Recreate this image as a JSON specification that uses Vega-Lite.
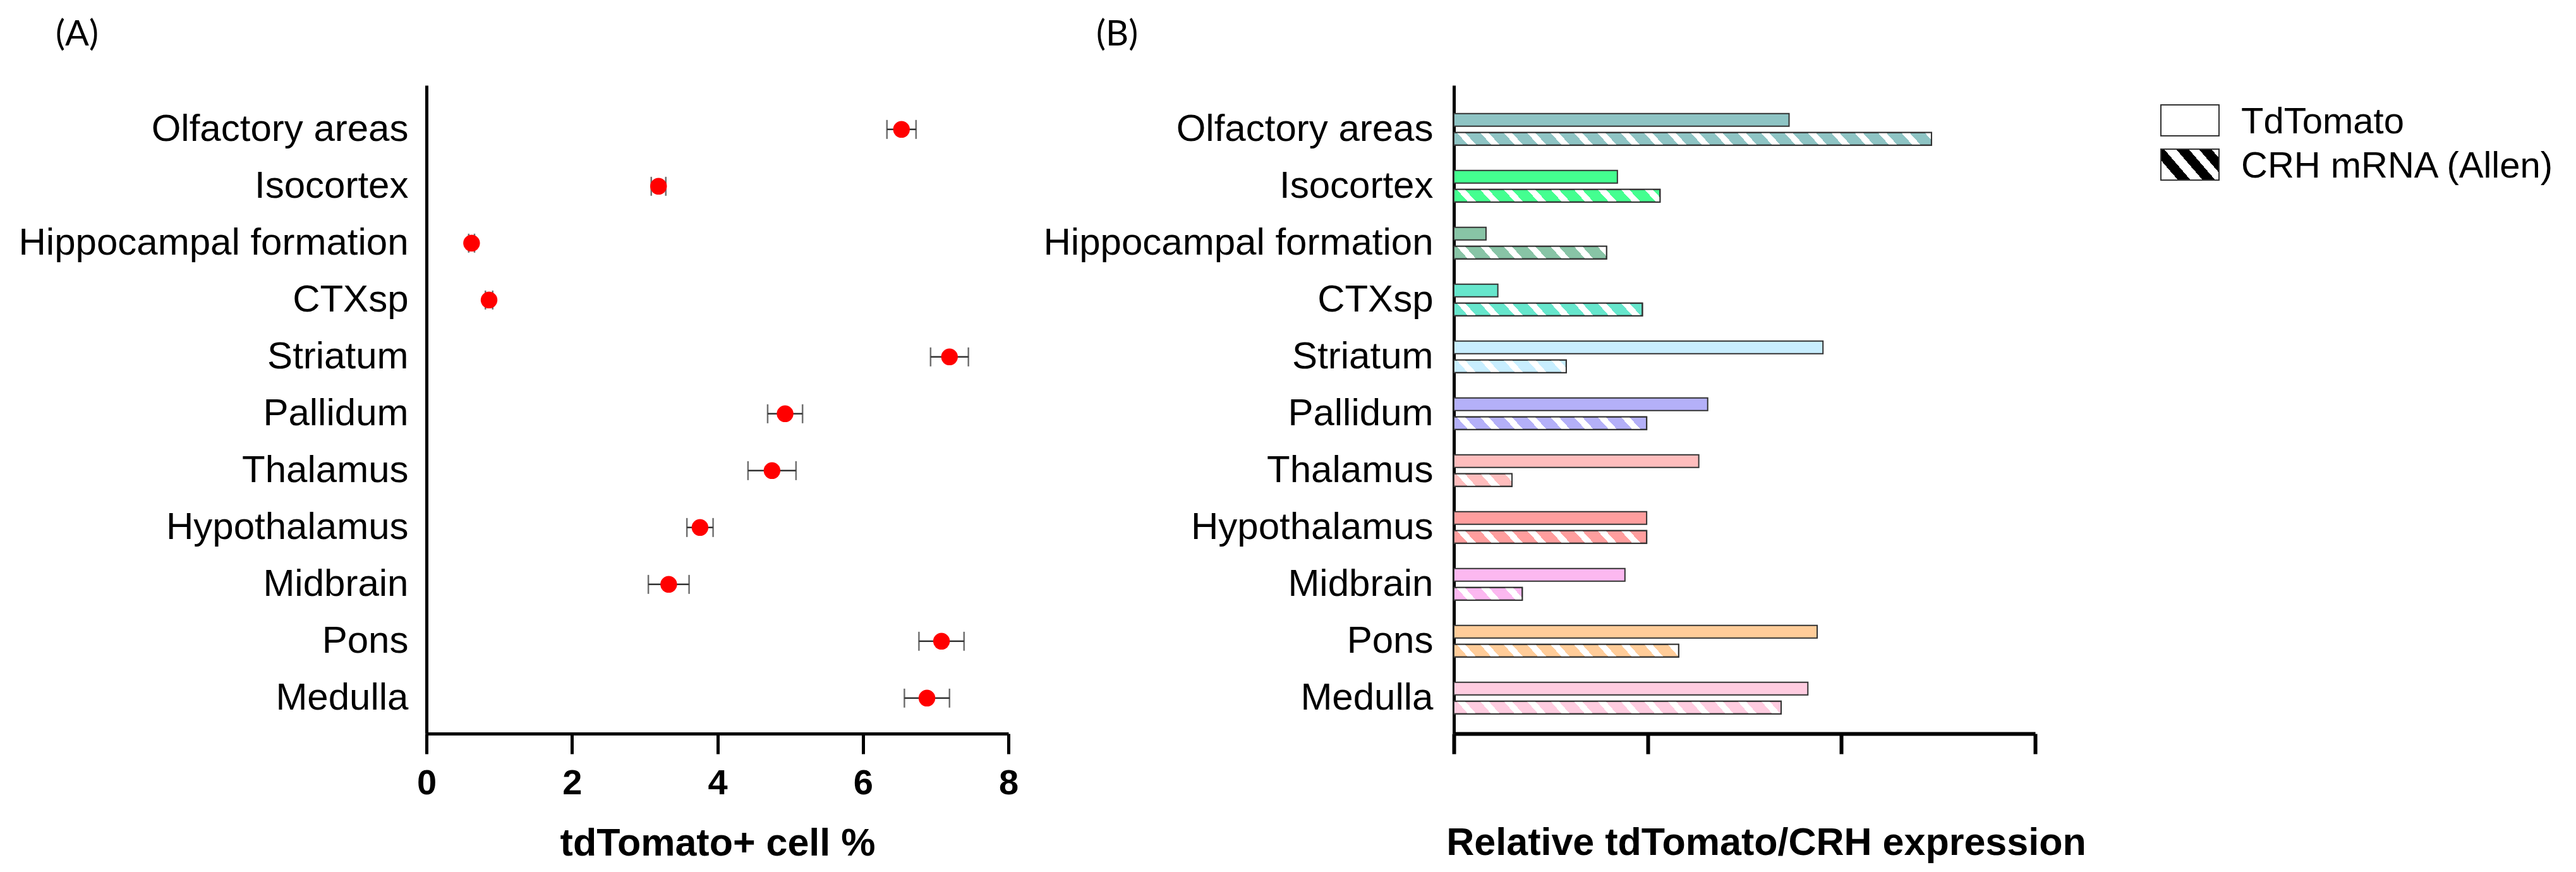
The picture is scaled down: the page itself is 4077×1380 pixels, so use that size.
{
  "$schema": "https://vega.github.io/schema/vega-lite/v6.json",
  "background": "white",
  "padding": {"left": 29, "top": 27, "right": 10, "bottom": 10},
  "config": {
    "view": {"stroke": null},
    "font": "Liberation Sans",
    "axis": {"grid": false, "domainColor": "black", "tickColor": "black", "labelColor": "black", "titleColor": "black"}
  },
  "datasets": {
    "cells": [
      {"region": "Olfactory areas", "mean": 6.53, "err": 0.2},
      {"region": "Isocortex", "mean": 3.19, "err": 0.1},
      {"region": "Hippocampal formation", "mean": 0.62, "err": 0.04},
      {"region": "CTXsp", "mean": 0.86, "err": 0.05},
      {"region": "Striatum", "mean": 7.19, "err": 0.26},
      {"region": "Pallidum", "mean": 4.93, "err": 0.24},
      {"region": "Thalamus", "mean": 4.75, "err": 0.33},
      {"region": "Hypothalamus", "mean": 3.76, "err": 0.18},
      {"region": "Midbrain", "mean": 3.33, "err": 0.28},
      {"region": "Pons", "mean": 7.08, "err": 0.31},
      {"region": "Medulla", "mean": 6.88, "err": 0.31}
    ],
    "expr": [
      {"region": "Olfactory areas", "series": "TdTomato", "value": 1.73},
      {"region": "Olfactory areas", "series": "CRH mRNA (Allen)", "value": 2.465},
      {"region": "Isocortex", "series": "TdTomato", "value": 0.844},
      {"region": "Isocortex", "series": "CRH mRNA (Allen)", "value": 1.064},
      {"region": "Hippocampal formation", "series": "TdTomato", "value": 0.166},
      {"region": "Hippocampal formation", "series": "CRH mRNA (Allen)", "value": 0.788},
      {"region": "CTXsp", "series": "TdTomato", "value": 0.227},
      {"region": "CTXsp", "series": "CRH mRNA (Allen)", "value": 0.973},
      {"region": "Striatum", "series": "TdTomato", "value": 1.905},
      {"region": "Striatum", "series": "CRH mRNA (Allen)", "value": 0.58},
      {"region": "Pallidum", "series": "TdTomato", "value": 1.31},
      {"region": "Pallidum", "series": "CRH mRNA (Allen)", "value": 0.995},
      {"region": "Thalamus", "series": "TdTomato", "value": 1.264},
      {"region": "Thalamus", "series": "CRH mRNA (Allen)", "value": 0.30},
      {"region": "Hypothalamus", "series": "TdTomato", "value": 0.995},
      {"region": "Hypothalamus", "series": "CRH mRNA (Allen)", "value": 0.995},
      {"region": "Midbrain", "series": "TdTomato", "value": 0.883},
      {"region": "Midbrain", "series": "CRH mRNA (Allen)", "value": 0.353},
      {"region": "Pons", "series": "TdTomato", "value": 1.875},
      {"region": "Pons", "series": "CRH mRNA (Allen)", "value": 1.16},
      {"region": "Medulla", "series": "TdTomato", "value": 1.827},
      {"region": "Medulla", "series": "CRH mRNA (Allen)", "value": 1.689}
    ],
    "legendrows": [
      {"series": "TdTomato"},
      {"series": "CRH mRNA (Allen)"}
    ]
  },
  "spacing": 117,
  "hconcat": [
    {
      "spacing": 39,
      "hconcat": [
        {
          "title": {"text": "(A)", "anchor": "start", "frame": "bounds", "dx": 59, "dy": 54, "offset": 49, "baseline": "bottom", "font": "Lato", "fontSize": 56, "fontWeight": "normal", "color": "black"},
          "width": 921,
          "height": 1026,
          "data": {"name": "cells"},
          "encoding": {
            "y": {
              "field": "region", "type": "nominal",
              "scale": {"domain": ["Olfactory areas", "Isocortex", "Hippocampal formation", "CTXsp", "Striatum", "Pallidum", "Thalamus", "Hypothalamus", "Midbrain", "Pons", "Medulla"], "paddingInner": 0.444, "paddingOuter": 0.422, "align": 0.59},
              "axis": {"title": null, "ticks": false, "tickSize": 0, "domainWidth": 5, "labelFontSize": 60, "labelFont": "Liberation Sans", "labelPadding": 29, "labelLimit": 2000}
            },
            "x": {
              "field": "mean", "type": "quantitative",
              "scale": {"domain": [0, 8], "nice": false},
              "axis": {"title": "tdTomato+ cell %", "values": [0, 2, 4, 6, 8], "tickSize": 32, "tickWidth": 5, "domainWidth": 5, "labelFontSize": 56, "labelFontWeight": "bold", "labelPadding": 19, "titleFontSize": 61, "titleFontWeight": "bold", "titlePadding": 38, "labelFlush": false}
            }
          },
          "layer": [
            {
              "mark": {"type": "errorbar", "color": "#333333", "thickness": 2.5, "ticks": {"size": 30, "thickness": 2.5, "color": "#333333"}, "rule": {"strokeWidth": 2.5, "color": "#333333"}},
              "encoding": {"xError": {"field": "err"}}
            },
            {
              "mark": {"type": "circle", "size": 700, "color": "#FF0000", "opacity": 1}
            }
          ]
        },
        {
          "title": {"text": "(B)", "anchor": "start", "frame": "bounds", "dx": 84, "dy": 54, "offset": 49, "baseline": "bottom", "font": "Lato", "fontSize": 56, "fontWeight": "normal", "color": "black"},
          "width": 920,
          "height": 1026,
          "data": {"name": "expr"},
          "encoding": {
            "y": {
              "field": "region", "type": "nominal",
              "scale": {"domain": ["Olfactory areas", "Isocortex", "Hippocampal formation", "CTXsp", "Striatum", "Pallidum", "Thalamus", "Hypothalamus", "Midbrain", "Pons", "Medulla"], "paddingInner": 0.444, "paddingOuter": 0.422, "align": 0.59},
              "axis": {"title": null, "ticks": false, "tickSize": 0, "domainWidth": 5, "labelFontSize": 60, "labelFont": "Liberation Sans", "labelPadding": 33, "labelLimit": 2000}
            },
            "yOffset": {"field": "series", "type": "nominal", "scale": {"domain": ["TdTomato", "CRH mRNA (Allen)"], "paddingInner": 0.3333, "paddingOuter": 0}},
            "x": {
              "field": "value", "type": "quantitative",
              "scale": {"domain": [0, 3], "nice": false},
              "axis": {"title": "Relative tdTomato/CRH expression", "values": [0, 1, 2, 3], "labels": false, "tickSize": 32, "tickWidth": 6, "domainWidth": 6, "titleFontSize": 61, "titleFontWeight": "bold", "titlePadding": 108, "titleX": 494}
            }
          },
          "layer": [
            {
              "mark": {"type": "bar", "stroke": "#333333", "strokeWidth": 2},
              "encoding": {
                "fill": {"field": "region", "type": "nominal", "legend": null,
                  "scale": {"domain": ["Olfactory areas", "Isocortex", "Hippocampal formation", "CTXsp", "Striatum", "Pallidum", "Thalamus", "Hypothalamus", "Midbrain", "Pons", "Medulla"],
                            "range": ["#8EC4C4", "#44FF90", "#88C4A6", "#66E6CC", "#C8EEFF", "#B4B0F8", "#FFBDBD", "#FF9E9E", "#FCB8F0", "#FFCC99", "#FFCCE0"]}}
              }
            },
            {
              "transform": [{"filter": "datum.series === 'CRH mRNA (Allen)'"}],
              "mark": {"type": "bar", "stroke": "#333333", "strokeWidth": 2},
              "encoding": {
                "fill": {
                  "condition": [
                    {"test": "datum.region === 'Olfactory areas'", "value": {"gradient": "linear", "x1": 0, "y1": 0.512, "x2": 1, "y2": 0.488, "stops": [
                      {"offset": 0, "color": "rgba(255,255,255,0)"},
                      {"offset": 0.0185, "color": "rgba(255,255,255,0)"}, {"offset": 0.0185, "color": "#ffffff"}, {"offset": 0.0357, "color": "#ffffff"}, {"offset": 0.0357, "color": "rgba(255,255,255,0)"},
                      {"offset": 0.0675, "color": "rgba(255,255,255,0)"}, {"offset": 0.0675, "color": "#ffffff"}, {"offset": 0.0847, "color": "#ffffff"}, {"offset": 0.0847, "color": "rgba(255,255,255,0)"},
                      {"offset": 0.1164, "color": "rgba(255,255,255,0)"}, {"offset": 0.1164, "color": "#ffffff"}, {"offset": 0.1336, "color": "#ffffff"}, {"offset": 0.1336, "color": "rgba(255,255,255,0)"},
                      {"offset": 0.1653, "color": "rgba(255,255,255,0)"}, {"offset": 0.1653, "color": "#ffffff"}, {"offset": 0.1825, "color": "#ffffff"}, {"offset": 0.1825, "color": "rgba(255,255,255,0)"},
                      {"offset": 0.2143, "color": "rgba(255,255,255,0)"}, {"offset": 0.2143, "color": "#ffffff"}, {"offset": 0.2315, "color": "#ffffff"}, {"offset": 0.2315, "color": "rgba(255,255,255,0)"},
                      {"offset": 0.2632, "color": "rgba(255,255,255,0)"}, {"offset": 0.2632, "color": "#ffffff"}, {"offset": 0.2804, "color": "#ffffff"}, {"offset": 0.2804, "color": "rgba(255,255,255,0)"},
                      {"offset": 0.3122, "color": "rgba(255,255,255,0)"}, {"offset": 0.3122, "color": "#ffffff"}, {"offset": 0.3294, "color": "#ffffff"}, {"offset": 0.3294, "color": "rgba(255,255,255,0)"},
                      {"offset": 0.3611, "color": "rgba(255,255,255,0)"}, {"offset": 0.3611, "color": "#ffffff"}, {"offset": 0.3783, "color": "#ffffff"}, {"offset": 0.3783, "color": "rgba(255,255,255,0)"},
                      {"offset": 0.4101, "color": "rgba(255,255,255,0)"}, {"offset": 0.4101, "color": "#ffffff"}, {"offset": 0.4272, "color": "#ffffff"}, {"offset": 0.4272, "color": "rgba(255,255,255,0)"},
                      {"offset": 0.4590, "color": "rgba(255,255,255,0)"}, {"offset": 0.4590, "color": "#ffffff"}, {"offset": 0.4762, "color": "#ffffff"}, {"offset": 0.4762, "color": "rgba(255,255,255,0)"},
                      {"offset": 0.5079, "color": "rgba(255,255,255,0)"}, {"offset": 0.5079, "color": "#ffffff"}, {"offset": 0.5251, "color": "#ffffff"}, {"offset": 0.5251, "color": "rgba(255,255,255,0)"},
                      {"offset": 0.5569, "color": "rgba(255,255,255,0)"}, {"offset": 0.5569, "color": "#ffffff"}, {"offset": 0.5741, "color": "#ffffff"}, {"offset": 0.5741, "color": "rgba(255,255,255,0)"},
                      {"offset": 0.6058, "color": "rgba(255,255,255,0)"}, {"offset": 0.6058, "color": "#ffffff"}, {"offset": 0.6230, "color": "#ffffff"}, {"offset": 0.6230, "color": "rgba(255,255,255,0)"},
                      {"offset": 0.6548, "color": "rgba(255,255,255,0)"}, {"offset": 0.6548, "color": "#ffffff"}, {"offset": 0.6720, "color": "#ffffff"}, {"offset": 0.6720, "color": "rgba(255,255,255,0)"},
                      {"offset": 0.7037, "color": "rgba(255,255,255,0)"}, {"offset": 0.7037, "color": "#ffffff"}, {"offset": 0.7209, "color": "#ffffff"}, {"offset": 0.7209, "color": "rgba(255,255,255,0)"},
                      {"offset": 0.7526, "color": "rgba(255,255,255,0)"}, {"offset": 0.7526, "color": "#ffffff"}, {"offset": 0.7698, "color": "#ffffff"}, {"offset": 0.7698, "color": "rgba(255,255,255,0)"},
                      {"offset": 0.8016, "color": "rgba(255,255,255,0)"}, {"offset": 0.8016, "color": "#ffffff"}, {"offset": 0.8188, "color": "#ffffff"}, {"offset": 0.8188, "color": "rgba(255,255,255,0)"},
                      {"offset": 0.8505, "color": "rgba(255,255,255,0)"}, {"offset": 0.8505, "color": "#ffffff"}, {"offset": 0.8677, "color": "#ffffff"}, {"offset": 0.8677, "color": "rgba(255,255,255,0)"},
                      {"offset": 0.8995, "color": "rgba(255,255,255,0)"}, {"offset": 0.8995, "color": "#ffffff"}, {"offset": 0.9167, "color": "#ffffff"}, {"offset": 0.9167, "color": "rgba(255,255,255,0)"},
                      {"offset": 0.9484, "color": "rgba(255,255,255,0)"}, {"offset": 0.9484, "color": "#ffffff"}, {"offset": 0.9656, "color": "#ffffff"}, {"offset": 0.9656, "color": "rgba(255,255,255,0)"},
                      {"offset": 0.9974, "color": "rgba(255,255,255,0)"}, {"offset": 0.9974, "color": "#ffffff"}, {"offset": 1, "color": "#ffffff"}
                    ]}},
                    {"test": "datum.region === 'Isocortex'", "value": {"gradient": "linear", "x1": 0, "y1": 0.528, "x2": 1, "y2": 0.472, "stops": [
                      {"offset": 0, "color": "rgba(255,255,255,0)"},
                      {"offset": 0.043, "color": "rgba(255,255,255,0)"}, {"offset": 0.043, "color": "#ffffff"}, {"offset": 0.083, "color": "#ffffff"}, {"offset": 0.083, "color": "rgba(255,255,255,0)"},
                      {"offset": 0.156, "color": "rgba(255,255,255,0)"}, {"offset": 0.156, "color": "#ffffff"}, {"offset": 0.196, "color": "#ffffff"}, {"offset": 0.196, "color": "rgba(255,255,255,0)"},
                      {"offset": 0.270, "color": "rgba(255,255,255,0)"}, {"offset": 0.270, "color": "#ffffff"}, {"offset": 0.310, "color": "#ffffff"}, {"offset": 0.310, "color": "rgba(255,255,255,0)"},
                      {"offset": 0.383, "color": "rgba(255,255,255,0)"}, {"offset": 0.383, "color": "#ffffff"}, {"offset": 0.423, "color": "#ffffff"}, {"offset": 0.423, "color": "rgba(255,255,255,0)"},
                      {"offset": 0.497, "color": "rgba(255,255,255,0)"}, {"offset": 0.497, "color": "#ffffff"}, {"offset": 0.537, "color": "#ffffff"}, {"offset": 0.537, "color": "rgba(255,255,255,0)"},
                      {"offset": 0.610, "color": "rgba(255,255,255,0)"}, {"offset": 0.610, "color": "#ffffff"}, {"offset": 0.650, "color": "#ffffff"}, {"offset": 0.650, "color": "rgba(255,255,255,0)"},
                      {"offset": 0.724, "color": "rgba(255,255,255,0)"}, {"offset": 0.724, "color": "#ffffff"}, {"offset": 0.764, "color": "#ffffff"}, {"offset": 0.764, "color": "rgba(255,255,255,0)"},
                      {"offset": 0.837, "color": "rgba(255,255,255,0)"}, {"offset": 0.837, "color": "#ffffff"}, {"offset": 0.877, "color": "#ffffff"}, {"offset": 0.877, "color": "rgba(255,255,255,0)"},
                      {"offset": 0.951, "color": "rgba(255,255,255,0)"}, {"offset": 0.951, "color": "#ffffff"}, {"offset": 0.991, "color": "#ffffff"}, {"offset": 0.991, "color": "rgba(255,255,255,0)"},
                      {"offset": 1, "color": "rgba(255,255,255,0)"}
                    ]}},
                    {"test": "datum.region === 'Hippocampal formation'", "value": {"gradient": "linear", "x1": 0, "y1": 0.537, "x2": 1, "y2": 0.463, "stops": [
                      {"offset": 0, "color": "rgba(255,255,255,0)"},
                      {"offset": 0.058, "color": "rgba(255,255,255,0)"}, {"offset": 0.058, "color": "#ffffff"}, {"offset": 0.112, "color": "#ffffff"}, {"offset": 0.112, "color": "rgba(255,255,255,0)"},
                      {"offset": 0.211, "color": "rgba(255,255,255,0)"}, {"offset": 0.211, "color": "#ffffff"}, {"offset": 0.264, "color": "#ffffff"}, {"offset": 0.264, "color": "rgba(255,255,255,0)"},
                      {"offset": 0.364, "color": "rgba(255,255,255,0)"}, {"offset": 0.364, "color": "#ffffff"}, {"offset": 0.417, "color": "#ffffff"}, {"offset": 0.417, "color": "rgba(255,255,255,0)"},
                      {"offset": 0.517, "color": "rgba(255,255,255,0)"}, {"offset": 0.517, "color": "#ffffff"}, {"offset": 0.570, "color": "#ffffff"}, {"offset": 0.570, "color": "rgba(255,255,255,0)"},
                      {"offset": 0.669, "color": "rgba(255,255,255,0)"}, {"offset": 0.669, "color": "#ffffff"}, {"offset": 0.723, "color": "#ffffff"}, {"offset": 0.723, "color": "rgba(255,255,255,0)"},
                      {"offset": 0.822, "color": "rgba(255,255,255,0)"}, {"offset": 0.822, "color": "#ffffff"}, {"offset": 0.876, "color": "#ffffff"}, {"offset": 0.876, "color": "rgba(255,255,255,0)"},
                      {"offset": 0.975, "color": "rgba(255,255,255,0)"}, {"offset": 0.975, "color": "#ffffff"}, {"offset": 1, "color": "#ffffff"}
                    ]}},
                    {"test": "datum.region === 'CTXsp'", "value": {"gradient": "linear", "x1": 0, "y1": 0.530, "x2": 1, "y2": 0.470, "stops": [
                      {"offset": 0, "color": "rgba(255,255,255,0)"},
                      {"offset": 0.047, "color": "rgba(255,255,255,0)"}, {"offset": 0.047, "color": "#ffffff"}, {"offset": 0.091, "color": "#ffffff"}, {"offset": 0.091, "color": "rgba(255,255,255,0)"},
                      {"offset": 0.171, "color": "rgba(255,255,255,0)"}, {"offset": 0.171, "color": "#ffffff"}, {"offset": 0.215, "color": "#ffffff"}, {"offset": 0.215, "color": "rgba(255,255,255,0)"},
                      {"offset": 0.295, "color": "rgba(255,255,255,0)"}, {"offset": 0.295, "color": "#ffffff"}, {"offset": 0.339, "color": "#ffffff"}, {"offset": 0.339, "color": "rgba(255,255,255,0)"},
                      {"offset": 0.419, "color": "rgba(255,255,255,0)"}, {"offset": 0.419, "color": "#ffffff"}, {"offset": 0.463, "color": "#ffffff"}, {"offset": 0.463, "color": "rgba(255,255,255,0)"},
                      {"offset": 0.544, "color": "rgba(255,255,255,0)"}, {"offset": 0.544, "color": "#ffffff"}, {"offset": 0.587, "color": "#ffffff"}, {"offset": 0.587, "color": "rgba(255,255,255,0)"},
                      {"offset": 0.668, "color": "rgba(255,255,255,0)"}, {"offset": 0.668, "color": "#ffffff"}, {"offset": 0.711, "color": "#ffffff"}, {"offset": 0.711, "color": "rgba(255,255,255,0)"},
                      {"offset": 0.792, "color": "rgba(255,255,255,0)"}, {"offset": 0.792, "color": "#ffffff"}, {"offset": 0.836, "color": "#ffffff"}, {"offset": 0.836, "color": "rgba(255,255,255,0)"},
                      {"offset": 0.916, "color": "rgba(255,255,255,0)"}, {"offset": 0.916, "color": "#ffffff"}, {"offset": 0.960, "color": "#ffffff"}, {"offset": 0.960, "color": "rgba(255,255,255,0)"},
                      {"offset": 1, "color": "rgba(255,255,255,0)"}
                    ]}},
                    {"test": "datum.region === 'Striatum'", "value": {"gradient": "linear", "x1": 0, "y1": 0.551, "x2": 1, "y2": 0.449, "stops": [
                      {"offset": 0, "color": "rgba(255,255,255,0)"},
                      {"offset": 0.079, "color": "rgba(255,255,255,0)"}, {"offset": 0.079, "color": "#ffffff"}, {"offset": 0.152, "color": "#ffffff"}, {"offset": 0.152, "color": "rgba(255,255,255,0)"},
                      {"offset": 0.287, "color": "rgba(255,255,255,0)"}, {"offset": 0.287, "color": "#ffffff"}, {"offset": 0.360, "color": "#ffffff"}, {"offset": 0.360, "color": "rgba(255,255,255,0)"},
                      {"offset": 0.494, "color": "rgba(255,255,255,0)"}, {"offset": 0.494, "color": "#ffffff"}, {"offset": 0.567, "color": "#ffffff"}, {"offset": 0.567, "color": "rgba(255,255,255,0)"},
                      {"offset": 0.702, "color": "rgba(255,255,255,0)"}, {"offset": 0.702, "color": "#ffffff"}, {"offset": 0.775, "color": "#ffffff"}, {"offset": 0.775, "color": "rgba(255,255,255,0)"},
                      {"offset": 0.910, "color": "rgba(255,255,255,0)"}, {"offset": 0.910, "color": "#ffffff"}, {"offset": 0.983, "color": "#ffffff"}, {"offset": 0.983, "color": "rgba(255,255,255,0)"},
                      {"offset": 1, "color": "rgba(255,255,255,0)"}
                    ]}},
                    {"test": "datum.region === 'Pallidum' || datum.region === 'Hypothalamus'", "value": {"gradient": "linear", "x1": 0, "y1": 0.530, "x2": 1, "y2": 0.470, "stops": [
                      {"offset": 0, "color": "rgba(255,255,255,0)"},
                      {"offset": 0.046, "color": "rgba(255,255,255,0)"}, {"offset": 0.046, "color": "#ffffff"}, {"offset": 0.089, "color": "#ffffff"}, {"offset": 0.089, "color": "rgba(255,255,255,0)"},
                      {"offset": 0.167, "color": "rgba(255,255,255,0)"}, {"offset": 0.167, "color": "#ffffff"}, {"offset": 0.210, "color": "#ffffff"}, {"offset": 0.210, "color": "rgba(255,255,255,0)"},
                      {"offset": 0.289, "color": "rgba(255,255,255,0)"}, {"offset": 0.289, "color": "#ffffff"}, {"offset": 0.331, "color": "#ffffff"}, {"offset": 0.331, "color": "rgba(255,255,255,0)"},
                      {"offset": 0.410, "color": "rgba(255,255,255,0)"}, {"offset": 0.410, "color": "#ffffff"}, {"offset": 0.452, "color": "#ffffff"}, {"offset": 0.452, "color": "rgba(255,255,255,0)"},
                      {"offset": 0.531, "color": "rgba(255,255,255,0)"}, {"offset": 0.531, "color": "#ffffff"}, {"offset": 0.574, "color": "#ffffff"}, {"offset": 0.574, "color": "rgba(255,255,255,0)"},
                      {"offset": 0.652, "color": "rgba(255,255,255,0)"}, {"offset": 0.652, "color": "#ffffff"}, {"offset": 0.695, "color": "#ffffff"}, {"offset": 0.695, "color": "rgba(255,255,255,0)"},
                      {"offset": 0.774, "color": "rgba(255,255,255,0)"}, {"offset": 0.774, "color": "#ffffff"}, {"offset": 0.816, "color": "#ffffff"}, {"offset": 0.816, "color": "rgba(255,255,255,0)"},
                      {"offset": 0.895, "color": "rgba(255,255,255,0)"}, {"offset": 0.895, "color": "#ffffff"}, {"offset": 0.938, "color": "#ffffff"}, {"offset": 0.938, "color": "rgba(255,255,255,0)"},
                      {"offset": 1, "color": "rgba(255,255,255,0)"}
                    ]}},
                    {"test": "datum.region === 'Thalamus'", "value": {"gradient": "linear", "x1": 0, "y1": 0.598, "x2": 1, "y2": 0.402, "stops": [
                      {"offset": 0, "color": "rgba(255,255,255,0)"},
                      {"offset": 0.152, "color": "rgba(255,255,255,0)"}, {"offset": 0.152, "color": "#ffffff"}, {"offset": 0.293, "color": "#ffffff"}, {"offset": 0.293, "color": "rgba(255,255,255,0)"},
                      {"offset": 0.554, "color": "rgba(255,255,255,0)"}, {"offset": 0.554, "color": "#ffffff"}, {"offset": 0.696, "color": "#ffffff"}, {"offset": 0.696, "color": "rgba(255,255,255,0)"},
                      {"offset": 0.957, "color": "rgba(255,255,255,0)"}, {"offset": 0.957, "color": "#ffffff"}, {"offset": 1, "color": "#ffffff"}
                    ]}},
                    {"test": "datum.region === 'Midbrain'", "value": {"gradient": "linear", "x1": 0, "y1": 0.583, "x2": 1, "y2": 0.417, "stops": [
                      {"offset": 0, "color": "rgba(255,255,255,0)"},
                      {"offset": 0.130, "color": "rgba(255,255,255,0)"}, {"offset": 0.130, "color": "#ffffff"}, {"offset": 0.250, "color": "#ffffff"}, {"offset": 0.250, "color": "rgba(255,255,255,0)"},
                      {"offset": 0.472, "color": "rgba(255,255,255,0)"}, {"offset": 0.472, "color": "#ffffff"}, {"offset": 0.593, "color": "#ffffff"}, {"offset": 0.593, "color": "rgba(255,255,255,0)"},
                      {"offset": 0.815, "color": "rgba(255,255,255,0)"}, {"offset": 0.815, "color": "#ffffff"}, {"offset": 0.935, "color": "#ffffff"}, {"offset": 0.935, "color": "rgba(255,255,255,0)"},
                      {"offset": 1, "color": "rgba(255,255,255,0)"}
                    ]}},
                    {"test": "datum.region === 'Pons'", "value": {"gradient": "linear", "x1": 0, "y1": 0.525, "x2": 1, "y2": 0.475, "stops": [
                      {"offset": 0, "color": "rgba(255,255,255,0)"},
                      {"offset": 0.039, "color": "rgba(255,255,255,0)"}, {"offset": 0.039, "color": "#ffffff"}, {"offset": 0.076, "color": "#ffffff"}, {"offset": 0.076, "color": "rgba(255,255,255,0)"},
                      {"offset": 0.143, "color": "rgba(255,255,255,0)"}, {"offset": 0.143, "color": "#ffffff"}, {"offset": 0.180, "color": "#ffffff"}, {"offset": 0.180, "color": "rgba(255,255,255,0)"},
                      {"offset": 0.247, "color": "rgba(255,255,255,0)"}, {"offset": 0.247, "color": "#ffffff"}, {"offset": 0.284, "color": "#ffffff"}, {"offset": 0.284, "color": "rgba(255,255,255,0)"},
                      {"offset": 0.351, "color": "rgba(255,255,255,0)"}, {"offset": 0.351, "color": "#ffffff"}, {"offset": 0.388, "color": "#ffffff"}, {"offset": 0.388, "color": "rgba(255,255,255,0)"},
                      {"offset": 0.455, "color": "rgba(255,255,255,0)"}, {"offset": 0.455, "color": "#ffffff"}, {"offset": 0.492, "color": "#ffffff"}, {"offset": 0.492, "color": "rgba(255,255,255,0)"},
                      {"offset": 0.559, "color": "rgba(255,255,255,0)"}, {"offset": 0.559, "color": "#ffffff"}, {"offset": 0.596, "color": "#ffffff"}, {"offset": 0.596, "color": "rgba(255,255,255,0)"},
                      {"offset": 0.663, "color": "rgba(255,255,255,0)"}, {"offset": 0.663, "color": "#ffffff"}, {"offset": 0.699, "color": "#ffffff"}, {"offset": 0.699, "color": "rgba(255,255,255,0)"},
                      {"offset": 0.767, "color": "rgba(255,255,255,0)"}, {"offset": 0.767, "color": "#ffffff"}, {"offset": 0.803, "color": "#ffffff"}, {"offset": 0.803, "color": "rgba(255,255,255,0)"},
                      {"offset": 0.871, "color": "rgba(255,255,255,0)"}, {"offset": 0.871, "color": "#ffffff"}, {"offset": 0.907, "color": "#ffffff"}, {"offset": 0.907, "color": "rgba(255,255,255,0)"},
                      {"offset": 0.975, "color": "rgba(255,255,255,0)"}, {"offset": 0.975, "color": "#ffffff"}, {"offset": 1, "color": "#ffffff"}
                    ]}},
                    {"test": "datum.region === 'Medulla'", "value": {"gradient": "linear", "x1": 0, "y1": 0.517, "x2": 1, "y2": 0.483, "stops": [
                      {"offset": 0, "color": "rgba(255,255,255,0)"},
                      {"offset": 0.027, "color": "rgba(255,255,255,0)"}, {"offset": 0.027, "color": "#ffffff"}, {"offset": 0.052, "color": "#ffffff"}, {"offset": 0.052, "color": "rgba(255,255,255,0)"},
                      {"offset": 0.098, "color": "rgba(255,255,255,0)"}, {"offset": 0.098, "color": "#ffffff"}, {"offset": 0.124, "color": "#ffffff"}, {"offset": 0.124, "color": "rgba(255,255,255,0)"},
                      {"offset": 0.170, "color": "rgba(255,255,255,0)"}, {"offset": 0.170, "color": "#ffffff"}, {"offset": 0.195, "color": "#ffffff"}, {"offset": 0.195, "color": "rgba(255,255,255,0)"},
                      {"offset": 0.241, "color": "rgba(255,255,255,0)"}, {"offset": 0.241, "color": "#ffffff"}, {"offset": 0.266, "color": "#ffffff"}, {"offset": 0.266, "color": "rgba(255,255,255,0)"},
                      {"offset": 0.313, "color": "rgba(255,255,255,0)"}, {"offset": 0.313, "color": "#ffffff"}, {"offset": 0.338, "color": "#ffffff"}, {"offset": 0.338, "color": "rgba(255,255,255,0)"},
                      {"offset": 0.384, "color": "rgba(255,255,255,0)"}, {"offset": 0.384, "color": "#ffffff"}, {"offset": 0.409, "color": "#ffffff"}, {"offset": 0.409, "color": "rgba(255,255,255,0)"},
                      {"offset": 0.456, "color": "rgba(255,255,255,0)"}, {"offset": 0.456, "color": "#ffffff"}, {"offset": 0.481, "color": "#ffffff"}, {"offset": 0.481, "color": "rgba(255,255,255,0)"},
                      {"offset": 0.527, "color": "rgba(255,255,255,0)"}, {"offset": 0.527, "color": "#ffffff"}, {"offset": 0.552, "color": "#ffffff"}, {"offset": 0.552, "color": "rgba(255,255,255,0)"},
                      {"offset": 0.598, "color": "rgba(255,255,255,0)"}, {"offset": 0.598, "color": "#ffffff"}, {"offset": 0.624, "color": "#ffffff"}, {"offset": 0.624, "color": "rgba(255,255,255,0)"},
                      {"offset": 0.670, "color": "rgba(255,255,255,0)"}, {"offset": 0.670, "color": "#ffffff"}, {"offset": 0.695, "color": "#ffffff"}, {"offset": 0.695, "color": "rgba(255,255,255,0)"},
                      {"offset": 0.741, "color": "rgba(255,255,255,0)"}, {"offset": 0.741, "color": "#ffffff"}, {"offset": 0.766, "color": "#ffffff"}, {"offset": 0.766, "color": "rgba(255,255,255,0)"},
                      {"offset": 0.813, "color": "rgba(255,255,255,0)"}, {"offset": 0.813, "color": "#ffffff"}, {"offset": 0.838, "color": "#ffffff"}, {"offset": 0.838, "color": "rgba(255,255,255,0)"},
                      {"offset": 0.884, "color": "rgba(255,255,255,0)"}, {"offset": 0.884, "color": "#ffffff"}, {"offset": 0.909, "color": "#ffffff"}, {"offset": 0.909, "color": "rgba(255,255,255,0)"},
                      {"offset": 0.956, "color": "rgba(255,255,255,0)"}, {"offset": 0.956, "color": "#ffffff"}, {"offset": 0.981, "color": "#ffffff"}, {"offset": 0.981, "color": "rgba(255,255,255,0)"},
                      {"offset": 1, "color": "rgba(255,255,255,0)"}
                    ]}}
                  ],
                  "value": "rgba(255,255,255,0)"
                }
              }
            }
          ]
        }
      ]
    },
    {
      "title": {"text": " ", "anchor": "start", "frame": "bounds", "dy": 54, "offset": 49, "baseline": "bottom", "font": "Lato", "fontSize": 56, "fontWeight": "normal", "color": "black"},
      "width": 92,
      "height": 150,
      "data": {"name": "legendrows"},
      "encoding": {
        "y": {"field": "series", "type": "nominal", "scale": {"domain": ["TdTomato", "CRH mRNA (Allen)"], "paddingInner": 0.3, "paddingOuter": 0.2214, "align": 1}, "axis": null}
      },
      "layer": [
        {
          "mark": {"type": "rect", "stroke": "#333333", "strokeWidth": 2},
          "encoding": {
            "x": {"datum": 0, "type": "quantitative", "scale": {"domain": [0, 1], "nice": false, "zero": false}, "axis": null},
            "x2": {"datum": 1},
            "fill": {
              "condition": {"test": "datum.series === 'CRH mRNA (Allen)'", "value": {"gradient": "linear", "x1": 0, "y1": 1, "x2": 1.205, "y2": 0.448, "stops": [
                {"offset": 0, "color": "#ffffff"}, {"offset": 0.202, "color": "#ffffff"},
                {"offset": 0.202, "color": "#000000"}, {"offset": 0.351, "color": "#000000"},
                {"offset": 0.351, "color": "#ffffff"}, {"offset": 0.493, "color": "#ffffff"},
                {"offset": 0.493, "color": "#000000"}, {"offset": 0.642, "color": "#000000"},
                {"offset": 0.642, "color": "#ffffff"}, {"offset": 0.761, "color": "#ffffff"},
                {"offset": 0.761, "color": "#000000"}, {"offset": 0.910, "color": "#000000"},
                {"offset": 0.910, "color": "#ffffff"}, {"offset": 1, "color": "#ffffff"}
              ]}},
              "value": "#ffffff"
            }
          }
        },
        {
          "mark": {"type": "text", "align": "left", "baseline": "middle", "dx": 35, "dy": 4, "fontSize": 58, "font": "Liberation Sans", "color": "black"},
          "encoding": {
            "x": {"datum": 1, "type": "quantitative"},
            "text": {"field": "series", "type": "nominal"}
          }
        }
      ]
    }
  ]
}
